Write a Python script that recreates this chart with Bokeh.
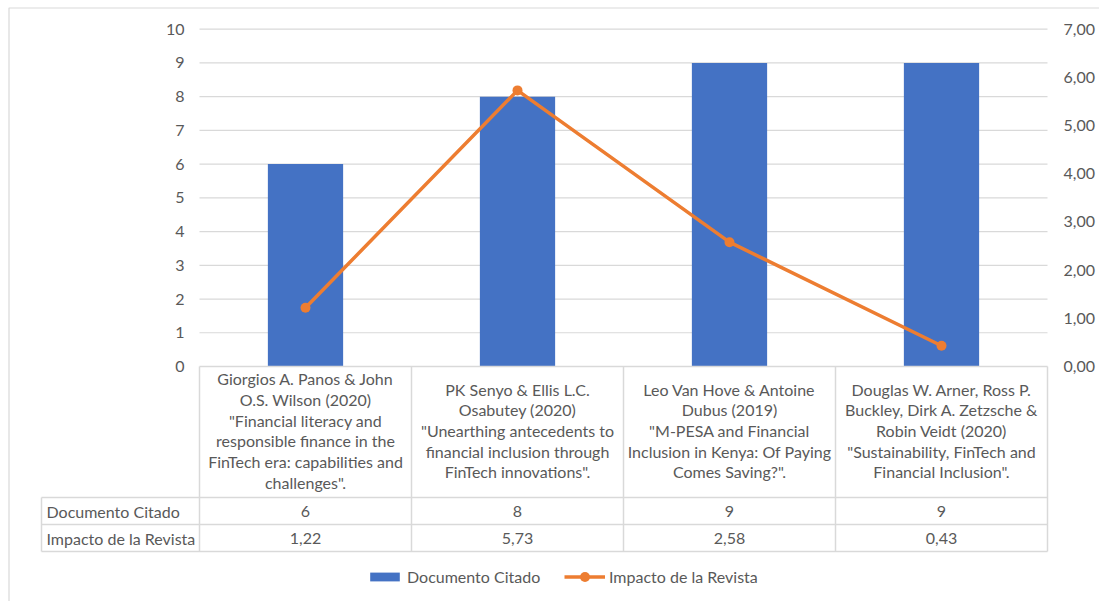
from bokeh.plotting import figure
from bokeh.models import Range1d, Legend, LegendItem
from bokeh.core.properties import value
from bokeh.embed import file_html
from bokeh.resources import INLINE

# ---- data -------------------------------------------------------------
references = [
    'Giorgios A. Panos & John\nO.S. Wilson (2020)\n"Financial literacy and\nresponsible finance in the\nFinTech era: capabilities and\nchallenges".',
    'PK Senyo & Ellis L.C.\nOsabutey (2020)\n"Unearthing antecedents to\nfinancial inclusion through\nFinTech innovations".',
    'Leo Van Hove & Antoine\nDubus (2019)\n"M-PESA and Financial\nInclusion in Kenya: Of Paying\nComes Saving?".',
    'Douglas W. Arner, Ross P.\nBuckley, Dirk A. Zetzsche &\nRobin Veidt (2020)\n"Sustainability, FinTech and\nFinancial Inclusion".',
]
documento_citado = [6, 8, 9, 9]
impacto_revista = [1.22, 5.73, 2.58, 0.43]
series_names = ["Documento Citado", "Impacto de la Revista"]
left_ticks = [0, 1, 2, 3, 4, 5, 6, 7, 8, 9, 10]
right_ticks = [0, 1, 2, 3, 4, 5, 6, 7]


def comma(v):
    return f"{v:.2f}".replace(".", ",")


# ---- layout (pixels of the canvas) -------------------------------------
W, H = 1099, 601
PLOT_L, PLOT_R = 199, 1047          # plot area edges
Y0_PX, YTOP_PX = 366.0, 28.7        # pixel rows of 0 and of the top tick
TABLE_L = 41                        # left edge of the data-table label column
ROW_PX = [497, 524, 551]            # data-table row separators
HEADER_MID_PX = 430                 # vertical centre of the category cells
FONT = value("Lato")
GREY_TXT = "#595959"
GREY_LN = "#d9d9d9"
BLUE = "#4472C4"
ORANGE = "#ED7D31"
FS = "16px"

n = len(references)
left_max, right_max = left_ticks[-1], right_ticks[-1]
cat_px = (PLOT_R - PLOT_L) / n
unit_px = (Y0_PX - YTOP_PX) / left_max


def px_x(px):
    return (px - PLOT_L) / cat_px


def px_y(py):
    return (Y0_PX - py) / unit_px


x_range = Range1d(px_x(0), px_x(W))
y_range = Range1d(px_y(H), px_y(0))
ratio = right_max / left_max

p = figure(width=W, height=H, x_range=x_range, y_range=y_range,
           output_backend="svg", toolbar_location=None,
           x_axis_location=None, y_axis_location=None,
           min_border=0, outline_line_color=None,
           background_fill_color="white", border_fill_color="white")
p.grid.visible = False
p.extra_y_ranges = {"imp": Range1d(y_range.start * ratio, y_range.end * ratio)}

centers = [i + 0.5 for i in range(n)]

# chart border
p.quad(left=px_x(8.5), right=px_x(W + 20), top=px_y(7.5), bottom=px_y(H + 20),
       fill_color=None, line_color=GREY_LN, line_width=1.2)

# horizontal gridlines across the plot area
p.segment(x0=0, x1=n, y0=left_ticks[1:], y1=left_ticks[1:],
          line_color=GREY_LN, line_width=1.2)

# columns: documents cited
bars = p.vbar(x=centers, top=documento_citado, bottom=0, width=0.355,
              fill_color=BLUE, line_color=None)

# line: journal impact on the secondary scale
ln = p.line(x=centers, y=impacto_revista, y_range_name="imp",
            line_color=ORANGE, line_width=3.5)
pts = p.scatter(x=centers, y=impacto_revista, y_range_name="imp", size=10,
                fill_color=ORANGE, line_color=None)

# axis labels
p.text(x=[px_x(184)] * len(left_ticks), y=left_ticks,
       text=[str(t) for t in left_ticks], text_align="right",
       text_baseline="middle", text_font=FONT, text_font_size=FS,
       text_color=GREY_TXT)
p.text(x=[px_x(1063)] * len(right_ticks), y=right_ticks, y_range_name="imp",
       text=[comma(t) for t in right_ticks], text_align="left",
       text_baseline="middle", text_font=FONT, text_font_size=FS,
       text_color=GREY_TXT)

# data table
bottom_y = px_y(ROW_PX[-1])
p.segment(x0=0, x1=n, y0=0, y1=0, line_color=GREY_LN, line_width=1.5)
p.segment(x0=list(range(n + 1)), x1=list(range(n + 1)),
          y0=[0] * (n + 1), y1=[bottom_y] * (n + 1),
          line_color=GREY_LN, line_width=1.5)
p.segment(x0=[px_x(TABLE_L)] * 3, x1=[n] * 3,
          y0=[px_y(r) for r in ROW_PX], y1=[px_y(r) for r in ROW_PX],
          line_color=GREY_LN, line_width=1.5)
p.segment(x0=px_x(TABLE_L), x1=px_x(TABLE_L), y0=px_y(ROW_PX[0]), y1=bottom_y,
          line_color=GREY_LN, line_width=1.5)

p.text(x=centers, y=[px_y(HEADER_MID_PX)] * n, text=references,
       text_align="center", text_baseline="middle", text_line_height=1.085,
       text_font=FONT, text_font_size=FS, text_color=GREY_TXT)

row_mid = [(ROW_PX[0] + ROW_PX[1]) / 2, (ROW_PX[1] + ROW_PX[2]) / 2]
p.text(x=centers, y=[px_y(row_mid[0])] * n,
       text=[str(v) for v in documento_citado], text_align="center",
       text_baseline="middle", text_font=FONT, text_font_size=FS,
       text_color=GREY_TXT)
p.text(x=centers, y=[px_y(row_mid[1])] * n,
       text=[comma(v) for v in impacto_revista], text_align="center",
       text_baseline="middle", text_font=FONT, text_font_size=FS,
       text_color=GREY_TXT)
p.text(x=[px_x(TABLE_L + 5)] * 2, y=[px_y(m) for m in row_mid],
       text=series_names, text_align="left", text_baseline="middle",
       text_font=FONT, text_font_size=FS, text_color=GREY_TXT)

# legend: one entry per series, each with its own swatch size
legend_style = dict(orientation="horizontal", label_standoff=4, padding=0,
                    margin=0, border_line_color=None, background_fill_alpha=0,
                    label_text_font="Lato", label_text_font_size=FS,
                    label_text_color=GREY_TXT)
bar_legend = Legend(items=[LegendItem(label=series_names[0], renderers=[bars])],
                    location=(366, 15), glyph_width=37, glyph_height=11,
                    **legend_style)
line_legend = Legend(items=[LegendItem(label=series_names[1],
                                       renderers=[ln, pts])],
                     location=(564, 12), glyph_width=41, glyph_height=25,
                     **legend_style)
p.add_layout(bar_legend, "center")
p.add_layout(line_legend, "center")

open("out.html", "w").write(file_html(p, INLINE))
